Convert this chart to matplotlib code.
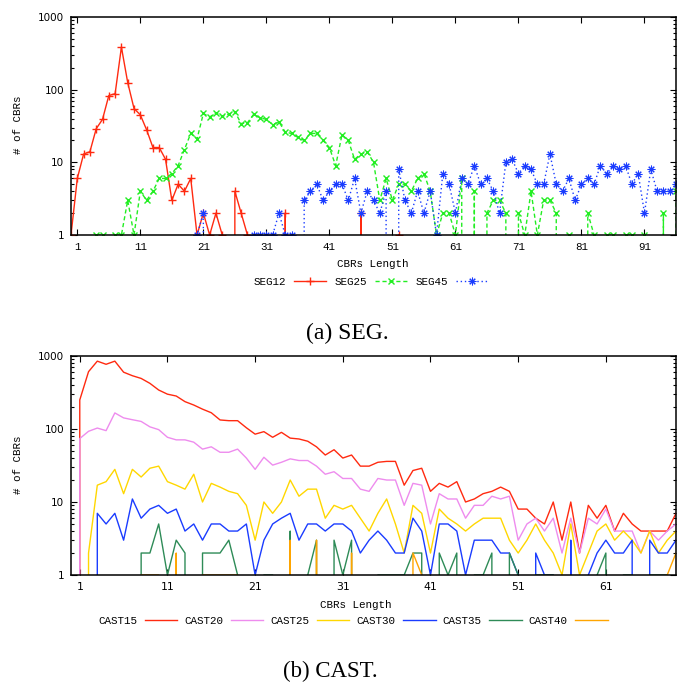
import numpy as np
import matplotlib
matplotlib.use("Agg")
import matplotlib.pyplot as plt

# ---- (a) SEG data: number of CBRs per length 0..96 ----
seg_x = np.arange(0, 97)
seg12 = [1, 6, 13, 14, 29, 39, 83, 88, 385, 125, 55, 45, 28, 16, 16, 11, 3, 5, 4, 6,
         1, 2, 1, 2, 1, 0, 4, 2, 1, 0, 0, 0, 0, 0, 2, 0, 0, 0, 0, 0,
         0, 0, 0, 0, 0, 0, 2, 0, 0, 0, 0, 0, 1, 0, 0, 0, 0, 0, 0, 0,
         0, 0, 0, 0, 0, 0, 0, 0, 0, 0, 0, 0, 0, 0, 0, 0, 0, 0, 0, 0,
         0, 0, 0, 0, 0, 0, 0, 0, 0, 0, 0, 0, 0, 0, 0, 0, 0]
seg25 = [0, 0, 0, 0, 1, 1, 0, 1, 1, 3, 1, 4, 3, 4, 6, 6, 7, 9, 15, 25,
         21, 47, 42, 48, 43, 46, 50, 34, 35, 46, 41, 39, 33, 36, 26, 25, 22, 20, 25, 25,
         20, 16, 9, 24, 20, 11, 13, 14, 10, 3, 6, 3, 5, 5, 4, 6, 7, 4, 1, 2,
         2, 1, 6, 0, 4, 0, 2, 3, 3, 2, 0, 2, 1, 4, 1, 3, 3, 2, 0, 1,
         0, 0, 2, 1, 0, 1, 1, 0, 1, 1, 0, 1, 0, 0, 2, 0, 4]
seg45 = [0, 0, 0, 0, 0, 0, 0, 0, 0, 0, 0, 0, 0, 0, 0, 0, 0, 0, 0, 0,
         1, 2, 0, 0, 0, 0, 0, 0, 0, 1, 1, 1, 1, 2, 1, 1, 0, 3, 4, 5,
         3, 4, 5, 5, 3, 6, 2, 4, 3, 2, 4, 0, 8, 3, 2, 4, 2, 4, 1, 7,
         5, 2, 6, 5, 9, 5, 6, 4, 2, 10, 11, 7, 9, 8, 5, 5, 13, 5, 4, 6,
         3, 5, 6, 5, 9, 7, 9, 8, 9, 5, 7, 2, 8, 4, 4, 4, 5]

# ---- (b) CAST data: length 0..69 ----
cast_x = np.arange(0, 70)
cast15 = [0, 250, 610, 850, 770, 850, 600, 537, 493, 422, 342, 300, 283, 237, 213, 187, 167, 133, 130, 130,
          104, 85, 92, 77, 90, 75, 73, 68, 57, 44, 52, 40, 44, 31, 31, 35, 36, 36, 17, 27,
          29, 14, 18, 16, 19, 10, 11, 13, 14, 16, 14, 8, 8, 6, 5, 10, 3, 10, 2, 9,
          6, 9, 4, 7, 5, 4, 4, 4, 4, 7]
cast20 = [0, 74, 93, 103, 95, 166, 142, 134, 127, 107, 98, 77, 71, 71, 66, 53, 57, 48, 48, 53,
          40, 28, 41, 32, 35, 39, 37, 37, 31, 24, 26, 21, 21, 15, 14, 21, 20, 20, 9, 18,
          17, 5, 13, 11, 11, 6, 9, 9, 12, 11, 12, 3, 5, 6, 4, 6, 2, 6, 2, 6,
          5, 8, 4, 4, 4, 2, 4, 3, 4, 5]
cast25 = [0, 0, 2, 17, 19, 28, 13, 28, 22, 29, 31, 19, 17, 15, 24, 10, 18, 16, 14, 13,
          9, 3, 10, 7, 10, 20, 12, 15, 15, 6, 9, 8, 9, 6, 4, 7, 11, 5, 2, 9,
          7, 2, 8, 6, 5, 4, 5, 6, 6, 6, 3, 2, 3, 5, 3, 2, 1, 5, 1, 2,
          4, 5, 3, 4, 3, 2, 4, 2, 3, 4]
cast30 = [0, 0, 0, 7, 5, 7, 3, 11, 6, 8, 9, 7, 8, 4, 5, 3, 5, 5, 4, 4,
          5, 1, 3, 5, 6, 7, 3, 5, 5, 4, 5, 5, 4, 2, 3, 4, 3, 2, 2, 6,
          4, 1, 5, 5, 4, 1, 3, 3, 3, 2, 2, 1, 0, 2, 1, 1, 0, 3, 0, 1,
          2, 3, 2, 2, 3, 0, 3, 2, 2, 3]
cast35 = [0, 0, 0, 0, 0, 0, 0, 0, 2, 2, 5, 1, 3, 2, 0, 2, 2, 2, 3, 1,
          0, 0, 1, 1, 0, 4, 0, 1, 3, 0, 3, 1, 3, 0, 0, 1, 1, 1, 1, 2,
          2, 0, 2, 1, 2, 0, 1, 1, 2, 0, 2, 1, 0, 1, 1, 1, 0, 0, 0, 0,
          1, 2, 0, 1, 1, 0, 1, 1, 1, 0]
cast40 = [0, 0, 0, 0, 0, 0, 0, 0, 1, 1, 1, 0, 2, 0, 0, 1, 1, 1, 1, 1,
          0, 0, 0, 0, 0, 3, 0, 0, 3, 0, 0, 0, 2, 0, 0, 0, 0, 0, 0, 2,
          1, 0, 0, 0, 0, 0, 0, 0, 0, 0, 0, 0, 0, 0, 0, 0, 0, 0, 0, 0,
          0, 0, 0, 0, 0, 0, 0, 0, 1, 2]

MONO = "Liberation Mono"
SANS = "DejaVu Sans"
W, H = 677, 685

fig = plt.figure(figsize=(W / 100, H / 100), dpi=100)


def px_axes(left, top, right, bottom):
    return fig.add_axes([left / W, 1 - bottom / H, (right - left) / W, (bottom - top) / H])


def style_axes(ax, xmax, xticks, xtick_font):
    ax.set_yscale("log", nonpositive="clip")
    ax.set_ylim(1, 1000)
    ax.set_xlim(0, xmax)
    ax.set_xticks(xticks)
    ax.set_yticks([1, 10, 100, 1000])
    ax.set_yticklabels(["1", "10", "100", "1000"], fontfamily=SANS, fontsize=7.5)
    ax.set_xticklabels([str(t) for t in xticks], fontfamily=xtick_font, fontsize=7.8)
    ax.tick_params(which="both", direction="in", top=True, right=True, width=0.8)
    ax.tick_params(which="major", length=4, pad=5)
    ax.tick_params(which="minor", length=2)
    for s in ax.spines.values():
        s.set_linewidth(1.1)


# ---------- (a) SEG ----------
ax1 = px_axes(71, 17, 676, 235)
ax1.plot(seg_x, seg12, color="#ff2a10", lw=1.0, marker="+", ms=6, mew=1.0, label="SEG12")
ax1.plot(seg_x, seg25, color="#22ee22", lw=1.0, dashes=(3, 2), marker="x", ms=5, mew=1.0,
         label="SEG25")
ax1.plot(seg_x, seg45, color="#1a3cff", lw=1.0, dashes=(1, 2), marker=(8, 2, 0), ms=5.5,
         mew=0.75, label="SEG45")
style_axes(ax1, 96, list(range(1, 97, 10)), MONO)
fig.text(18 / W, 1 - 125 / H, "# of CBRs", rotation=90, ha="center", va="center",
         fontfamily=MONO, fontsize=7.8)
fig.text(373 / W, 1 - 264 / H, "CBRs Length", ha="center", va="center",
         fontfamily=MONO, fontsize=7.8)
h, l = ax1.get_legend_handles_labels()
fig.legend(h, l, loc="center", bbox_to_anchor=(371 / W, 1 - 282 / H), ncol=3,
           frameon=False, markerfirst=False, numpoints=1, handlelength=3.0,
           handletextpad=0.7, columnspacing=0.8, prop={"family": MONO, "size": 7.8})
fig.text(347 / W, 1 - 333 / H, "(a) SEG.", ha="center", va="center",
         fontfamily="Liberation Serif", fontsize=17)

# ---------- (b) CAST ----------
ax2 = px_axes(71, 356, 676, 575)
cast_series = [("CAST15", cast15, "#ff2a10"), ("CAST20", cast20, "#ee8cee"),
               ("CAST25", cast25, "#ffd700"), ("CAST30", cast30, "#1a3cff"),
               ("CAST35", cast35, "#2e8b57"), ("CAST40", cast40, "#ffa500")]
for name, vals, col in cast_series:
    ax2.plot(cast_x, vals, color=col, lw=1.0, label=name)
style_axes(ax2, 69, list(range(1, 70, 10)), SANS)
fig.text(18 / W, 1 - 465 / H, "# of CBRs", rotation=90, ha="center", va="center",
         fontfamily=MONO, fontsize=7.8)
fig.text(356 / W, 1 - 605 / H, "CBRs Length", ha="center", va="center",
         fontfamily=MONO, fontsize=7.8)
h, l = ax2.get_legend_handles_labels()
fig.legend(h, l, loc="center", bbox_to_anchor=(353 / W, 1 - 621 / H), ncol=6,
           frameon=False, markerfirst=False, handlelength=3.0,
           handletextpad=0.7, columnspacing=0.65, prop={"family": MONO, "size": 7.8})
fig.text(330 / W, 1 - 671 / H, "(b) CAST.", ha="center", va="center",
         fontfamily="Liberation Serif", fontsize=16.5)

fig.savefig("out.png", dpi=100, facecolor="white")
